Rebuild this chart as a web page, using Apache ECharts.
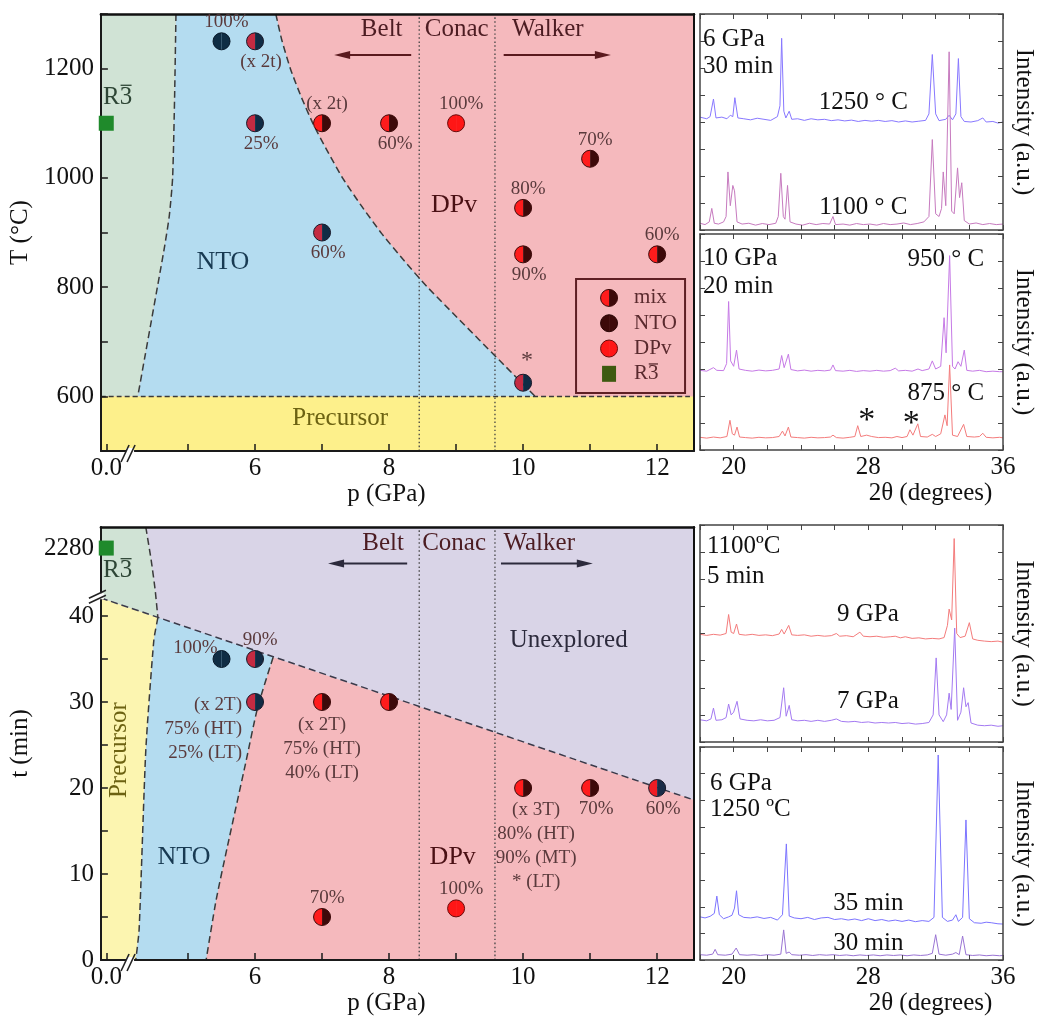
<!DOCTYPE html>
<html>
<head>
<meta charset="utf-8">
<script src="https://cdn.jsdelivr.net/npm/echarts@6.0.0/dist/echarts.min.js"></script>
<style>html,body{margin:0;padding:0;background:#fff;}#chart{width:1037px;height:1023px;}</style>
</head>
<body>
<div id="chart"></div>
<script>
// ======================= DATA =======================
// phase-diagram axes
const pTickValues  = [0, 5, 6, 7, 8, 9, 10, 11, 12];          // GPa (0.0 sits after an axis break)
const pLabelValues = [0, 6, 8, 10, 12];
const TLabelValues = [600, 800, 1000, 1200];                   // °C
const tTickValues  = [0, 5, 10, 15, 20, 25, 30, 35, 40, 2280]; // min (2280 after an axis break)
const tLabelValues = [0, 10, 20, 30, 40, 2280];
const xrdLabelValues = [20, 28, 36];                           // 2θ (degrees)

// press limits (GPa) separating Belt | Conac | Walker
const pressLimits = [8.45, 9.58];
const precursorT = 600;

// ---- top diagram : T (°C) vs p (GPa) ----
const topR3Boundary  = [[4.82,1300],[4.80,1150],[4.77,1000],[4.72,930],[4.64,867],[4.25,600]];
const topDPvBoundary = [[6.31,1300],[6.40,1252],[6.53,1199],[6.69,1148],[6.87,1098],[7.08,1049],[7.31,999],[7.58,950],[7.89,898],[8.22,849],[8.58,799],[10.18,600]];
const topPoints = [ // [p, T, phase, label]
  [5.5,1250,'NTO','100%'],
  [6,1250,'mixB','(x 2t)'],
  [6,1100,'mixB','25%'],
  [7,900,'mixB','60%'],
  [7,1100,'mix','(x 2t)'],
  [8,1100,'mix','60%'],
  [9,1100,'DPv','100%'],
  [11,1035,'mix','70%'],
  [10,945,'mix','80%'],
  [10,860,'mix','90%'],
  [12,860,'mix','60%'],
  [10,625,'mixB','*'],
  [0,1100,'R3','']
];
const topLabelKinds = ['above','below','below','below','above','below','above','above','above','below','above','star',''];
const topNotes = [ // [p, T, text, kind]
  [7.89,1271,'Belt','site'],[9.01,1271,'Conac','site'],[10.37,1271,'Walker','site'],
  [5.52,845,'NTO','nto'],[8.97,950,'DPv','dpv'],[7.27,559,'Precursor','prec'],[3.95,1148,'R3\u0305','r3']
];
const topArrows = [[8.33,7.18,1225],[9.71,11.31,1225]]; // [from p, to p, T]

// ---- bottom diagram : t (min) vs p (GPa) ----
const botR3Curve        = [[4.37,50.35],[4.45,46.5],[4.51,43.0],[4.55,39.8]];
const botUnexploredLine = [[3.70,42.1],[12.55,18.6]];
const botPrecBoundary   = [[4.55,39.8],[4.49,37.2],[4.37,24.4],[4.27,3.5],[4.22,0]];
const botDPvBoundary    = [[6.27,35.2],[6.04,29.4],[5.86,22.9],[5.61,14.0],[5.42,7.0],[5.27,0]];
const botPoints = [ // [p, t, phase, label]
  [5.5,35,'NTO','100%'],
  [6,35,'mixB','90%'],
  [6,30,'mixB','(x 2T)\n75% (HT)\n25% (LT)'],
  [7,30,'mix','(x 2T)\n75% (HT)\n40% (LT)'],
  [8,30,'mix',''],
  [7,5,'mix','70%'],
  [9,6,'DPv','100%'],
  [10,20,'mix','(x 3T)\n80% (HT)\n90% (MT)\n* (LT)'],
  [11,20,'mix','70%'],
  [12,20,'mixC','60%'],
  [0,2280,'R3','']
];
const botLabelKinds = ['aboveLeft','above','leftBlock','belowBlock','','above','above','belowBlockR','below','below',''];
const botNotes = [
  [7.91,48.4,'Belt','site'],[8.97,48.4,'Conac','site'],[10.24,48.4,'Walker','site'],
  [10.68,37.2,'Unexplored','unexp'],[4.94,11.9,'NTO','nto'],[8.95,11.9,'DPv','dpv'],
  [3.97,24.4,'Precursor','precV'],[3.95,45.3,'R3\u0305','r3']
];
const botArrows = [[8.27,7.09,46.1],[9.67,11.04,46.1]];

const legendItems = [['mix','mix'],['NTOleg','NTO'],['DPv','DPv'],['R3leg','R3\u0305']];

// ---- XRD patterns [2θ, intensity] ----
const xrd6GPa1250C = [[18.0,4.18],[18.4,4.12],[18.6,4.2],[18.8,4.85],[18.95,4.15],[19.3,4.18],[19.6,4.12],[19.8,4.25],[19.95,4.2],[20.07,4.9],[20.25,4.15],[20.6,4.12],[21.0,4.08],[21.4,4.14],[21.8,4.1],[22.2,4.06],[22.6,4.2],[22.75,4.6],[22.85,7.1],[22.98,4.4],[23.1,4.15],[23.3,4.4],[23.45,4.1],[23.8,4.12],[24.2,4.06],[24.6,4.12],[25.0,4.08],[25.4,4.1],[25.8,4.05],[26.2,4.08],[26.6,4.04],[27.0,4.07],[27.4,4.02],[27.8,4.06],[28.2,4.03],[28.6,4.06],[29.0,4.02],[29.4,4.05],[29.8,4.0],[30.2,4.04],[30.6,4.0],[31.0,4.03],[31.4,4.06],[31.6,4.3],[31.8,6.5],[32.0,4.3],[32.2,4.05],[32.6,4.1],[32.8,4.25],[33.0,4.08],[33.2,4.3],[33.35,6.35],[33.5,4.2],[33.7,4.02],[34.1,4.0],[34.5,4.05],[34.8,4.15],[35.0,4.0],[35.4,4.02],[35.7,3.96],[36.0,4.0]];
const xrd6GPa1100C = [[18.0,0.25],[18.3,0.2],[18.55,0.3],[18.7,0.8],[18.85,0.25],[19.1,0.22],[19.4,0.3],[19.55,0.5],[19.66,2.15],[19.8,0.9],[19.95,1.65],[20.05,1.45],[20.2,0.3],[20.5,0.22],[20.9,0.25],[21.3,0.18],[21.7,0.24],[22.1,0.2],[22.5,0.25],[22.65,0.5],[22.8,2.1],[22.95,0.5],[23.05,0.4],[23.2,1.65],[23.35,0.3],[23.7,0.22],[24.1,0.18],[24.5,0.25],[24.9,0.2],[25.3,0.24],[25.7,0.22],[25.9,0.5],[26.05,0.2],[26.5,0.22],[26.9,0.18],[27.3,0.24],[27.7,0.2],[28.1,0.22],[28.5,0.18],[28.9,0.24],[29.3,0.2],[29.7,0.22],[30.1,0.26],[30.5,0.2],[30.9,0.24],[31.3,0.3],[31.6,0.5],[31.8,3.35],[32.0,0.6],[32.2,0.5],[32.35,0.8],[32.45,2.15],[32.6,0.9],[32.8,6.6],[32.95,0.7],[33.1,0.6],[33.3,2.3],[33.42,1.2],[33.55,1.75],[33.7,0.35],[34.0,0.22],[34.4,0.26],[34.8,0.2],[35.2,0.24],[35.6,0.2],[36.0,0.22]];
const xrd10GPa950C = [[18.0,2.95],[18.4,2.92],[18.8,3.05],[19.0,2.95],[19.4,2.94],[19.58,3.2],[19.7,5.5],[19.82,3.3],[20.0,3.1],[20.17,3.7],[20.32,3.0],[20.7,2.95],[21.1,2.92],[21.5,2.96],[21.9,2.93],[22.3,2.95],[22.7,3.0],[22.85,3.5],[23.0,3.05],[23.25,3.55],[23.4,2.98],[23.8,2.93],[24.2,2.96],[24.6,2.92],[25.0,2.95],[25.4,2.93],[25.75,2.96],[25.9,3.15],[26.05,2.94],[26.5,2.92],[26.9,2.95],[27.3,2.91],[27.7,2.94],[28.1,2.92],[28.5,2.95],[28.9,2.92],[29.3,2.94],[29.6,3.03],[29.8,2.93],[30.2,2.95],[30.6,2.92],[30.95,3.0],[31.2,2.94],[31.6,3.0],[31.8,3.3],[32.0,3.0],[32.3,3.1],[32.5,4.9],[32.62,3.6],[32.83,7.2],[33.0,3.1],[33.15,3.0],[33.33,3.27],[33.5,3.1],[33.7,3.7],[33.85,2.95],[34.2,2.92],[34.6,2.95],[35.0,2.9],[35.4,2.92],[35.8,2.9],[36.0,2.9]];
const xrd10GPa875C = [[18.0,0.47],[18.4,0.44],[18.8,0.48],[19.2,0.45],[19.6,0.5],[19.78,1.1],[19.92,0.6],[20.05,0.55],[20.2,0.85],[20.35,0.48],[20.7,0.46],[21.1,0.44],[21.5,0.47],[21.9,0.45],[22.3,0.46],[22.7,0.5],[22.9,0.7],[23.05,0.52],[23.25,0.85],[23.4,0.48],[23.8,0.46],[24.2,0.44],[24.6,0.47],[25.0,0.45],[25.4,0.46],[25.75,0.48],[25.9,0.55],[26.1,0.46],[26.5,0.44],[26.9,0.47],[27.2,0.5],[27.37,0.9],[27.55,0.5],[27.9,0.55],[28.2,0.5],[28.6,0.46],[29.0,0.47],[29.4,0.45],[29.7,0.5],[30.0,0.46],[30.3,0.5],[30.47,0.75],[30.65,0.55],[30.94,0.97],[31.1,0.5],[31.5,0.48],[31.8,0.58],[32.0,0.5],[32.3,0.6],[32.55,1.3],[32.68,0.9],[32.83,3.15],[33.0,0.55],[33.3,0.5],[33.66,0.95],[33.85,0.5],[34.3,0.48],[34.6,0.5],[34.8,0.62],[35.0,0.47],[35.4,0.45],[35.8,0.47],[36.0,0.45]];
const xrd9GPa = [[18.0,3.97],[18.4,3.93],[18.8,3.97],[19.2,3.94],[19.55,4.0],[19.7,4.7],[19.85,4.05],[20.0,4.0],[20.17,4.35],[20.32,3.97],[20.7,3.94],[21.1,3.97],[21.5,3.93],[21.9,3.95],[22.3,3.92],[22.7,3.98],[22.85,4.15],[23.0,3.98],[23.27,4.3],[23.45,3.95],[23.8,3.93],[24.2,3.95],[24.6,3.9],[25.0,3.93],[25.4,3.9],[25.8,3.92],[26.1,4.0],[26.3,3.9],[26.7,3.92],[27.1,3.88],[27.5,4.05],[27.7,3.9],[28.1,3.88],[28.5,3.9],[28.9,3.86],[29.3,3.88],[29.6,3.9],[29.9,3.84],[30.2,3.88],[30.6,3.82],[31.0,3.84],[31.4,3.8],[31.8,3.82],[32.2,3.8],[32.5,3.85],[32.7,4.3],[32.8,4.9],[32.95,4.5],[33.1,7.5],[33.25,4.0],[33.45,3.85],[33.75,3.9],[34.0,4.4],[34.2,3.8],[34.5,3.75],[34.9,3.72],[35.3,3.7],[35.7,3.72],[36.0,3.68]];
const xrd7GPa = [[18.0,0.82],[18.4,0.78],[18.65,0.85],[18.8,1.25],[18.95,0.8],[19.3,0.82],[19.55,0.9],[19.7,1.4],[19.85,1.0],[20.0,1.1],[20.2,1.5],[20.38,0.85],[20.8,0.8],[21.2,0.78],[21.6,0.82],[22.0,0.78],[22.4,0.8],[22.75,0.9],[22.97,2.0],[23.12,0.95],[23.3,1.35],[23.45,0.82],[23.8,0.78],[24.2,0.8],[24.6,0.76],[25.0,0.8],[25.4,0.76],[25.8,0.8],[26.1,0.85],[26.4,0.76],[26.8,0.74],[27.2,0.76],[27.6,0.72],[28.0,0.74],[28.4,0.7],[28.8,0.72],[29.2,0.7],[29.6,0.72],[30.0,0.68],[30.4,0.7],[30.8,0.66],[31.2,0.68],[31.6,0.72],[31.85,1.0],[32.03,3.1],[32.2,1.0],[32.45,0.75],[32.65,1.0],[32.8,1.8],[32.92,1.2],[33.13,4.2],[33.3,0.8],[33.5,1.1],[33.66,2.0],[33.8,1.3],[33.93,1.45],[34.1,0.7],[34.5,0.62],[34.9,0.6],[35.3,0.62],[35.7,0.58],[36.0,0.6]];
const xrd35min = [[18.0,1.62],[18.3,1.58],[18.6,1.64],[18.85,1.75],[19.0,2.4],[19.15,1.7],[19.4,1.55],[19.7,1.62],[19.9,1.68],[20.05,1.95],[20.17,2.6],[20.3,1.7],[20.6,1.6],[21.0,1.58],[21.4,1.62],[21.8,1.56],[22.2,1.6],[22.6,1.5],[22.9,1.7],[23.13,4.36],[23.3,1.65],[23.6,1.58],[24.0,1.55],[24.4,1.6],[24.8,1.52],[25.2,1.58],[25.6,1.6],[26.0,1.52],[26.4,1.55],[26.8,1.5],[27.2,1.54],[27.6,1.48],[28.0,1.55],[28.4,1.48],[28.8,1.52],[29.2,1.46],[29.6,1.5],[30.0,1.45],[30.4,1.5],[30.8,1.44],[31.2,1.48],[31.6,1.45],[31.9,1.6],[32.15,7.7],[32.4,1.6],[32.7,1.45],[33.0,1.5],[33.2,1.7],[33.35,1.45],[33.6,1.6],[33.8,5.26],[34.0,1.55],[34.3,1.4],[34.7,1.38],[35.0,1.42],[35.3,1.4],[35.7,1.36],[36.0,1.35]];
const xrd30min = [[18.0,0.2],[18.4,0.18],[18.75,0.22],[18.9,0.4],[19.05,0.2],[19.5,0.18],[19.9,0.22],[20.15,0.45],[20.35,0.2],[20.8,0.18],[21.2,0.2],[21.6,0.17],[22.0,0.2],[22.4,0.18],[22.8,0.22],[22.97,1.13],[23.12,0.25],[23.3,0.3],[23.45,0.2],[23.9,0.18],[24.3,0.2],[24.7,0.17],[25.1,0.2],[25.5,0.18],[25.9,0.2],[26.3,0.17],[26.7,0.19],[27.1,0.16],[27.5,0.19],[27.9,0.17],[28.3,0.19],[28.7,0.16],[29.1,0.19],[29.5,0.17],[29.9,0.19],[30.3,0.16],[30.7,0.19],[31.1,0.17],[31.5,0.19],[31.8,0.25],[32.0,0.95],[32.2,0.22],[32.6,0.18],[33.0,0.22],[33.2,0.28],[33.4,0.2],[33.6,0.9],[33.8,0.2],[34.2,0.17],[34.6,0.19],[35.0,0.16],[35.4,0.18],[35.8,0.16],[36.0,0.17]];

const xrdNotes1 = [[18.18,7.04,'6 GPa','xrdL'],[18.18,6.04,'30 min','xrdL'],[27.7,4.74,'1250 \u00b0 C','xrd'],[27.7,0.85,'1100 \u00b0 C','xrd']];
const xrdNotes2 = [[18.18,7.1,'10 GPa','xrdL'],[18.18,6.04,'20 min','xrdL'],[32.6,7.07,'950 \u00b0 C','xrd'],[32.6,2.1,'875 \u00b0 C','xrd'],[27.9,1.3,'*','star'],[30.55,1.19,'*','star']];
const xrdNotes3 = [[18.41,7.2,'1100\u00baC','xrdL'],[18.41,6.09,'5 min','xrdL'],[27.97,4.72,'9 GPa','xrd'],[27.97,1.51,'7 GPa','xrd']];
const xrdNotes4 = [[18.6,6.65,'6 GPa','xrdL'],[18.6,5.64,'1250 \u00baC','xrdL'],[28.0,2.14,'35 min','xrd'],[28.0,0.64,'30 min','xrd']];

// ======================= LAYOUT / STYLE =======================
const FONT = '"Liberation Serif","Times New Roman",serif';
const P_MIN = 3.70, P_MAX = 12.55, P_ZERO_POS = 3.78, P_BREAK_MARK = 4.15;
const T_MIN = 500, T_MAX = 1300;
const t_MIN = 0, t_MAX = 50.35, t_BIG_POS = 47.9, t_BREAK_MARK = 42.3;
const pAxis = p => (p === 0 ? P_ZERO_POS : p);
const tAxis = t => (t > 100 ? t_BIG_POS : t);
const near = (a, b) => Math.abs(a - b) < 1e-6;

const C = {pink:'#f5b9bd', blue:'#b4dcf0', green:'#d0e3d5', yellow:'#fdf08b', yellow2:'#fcf5b0', lav:'#d9d4e7'};

function font(size){ return size + 'px ' + FONT; }
function txt(x, y, text, o) {
  o = o || {};
  return {type:'text', x:x, y:y, rotation:o.rot || 0,
    style:{text:text, x:0, y:0, align:o.align || 'center', verticalAlign:o.va || 'middle',
      fill:o.color || '#111', font:font(o.size || 24), lineHeight:o.lh || Math.round((o.size||24)*1.2)}};
}
// "R3" with an overline bar on the 3 (R-bar-3 space group symbol)
function r3Shapes(x, y, size, color, align) {
  const w = 1.167 * size;
  const left = align === 'left' ? x : x - w / 2;
  return [txt(left, y, 'R3', {align:'left', size:size, color:color}),
    {type:'line', shape:{x1:left + 0.70*size, y1:y - 0.47*size, x2:left + 1.14*size, y2:y - 0.47*size},
      style:{stroke:color, lineWidth:1.3}}];
}
function polySeries(gi, pts, fill) {
  return {type:'custom', xAxisIndex:2*gi, yAxisIndex:2*gi, silent:true, z:1, clip:false,
    data:[[pts[0][0], pts[0][1]]],
    renderItem:(params, api) => ({type:'polygon', shape:{points:pts.map(q => api.coord(q))}, style:{fill:fill}})};
}
function pathSeries(gi, pts, dash, color, width) {
  return {type:'custom', xAxisIndex:2*gi, yAxisIndex:2*gi, silent:true, z:2, clip:false,
    data:[[pts[0][0], pts[0][1]]],
    renderItem:(params, api) => ({type:'polyline', shape:{points:pts.map(q => api.coord(q)), smooth:0.2},
      style:{stroke:color, lineWidth:width, lineDash:dash, fill:null}})};
}
const PHASE = {
  NTO:   ['#0f2d44','#0f2d44','#08192a'],
  DPv:   ['#ff1616','#ff1616','#6a0a0a'],
  mix:   ['#ff1c1c','#3d0909','#3d0909'],
  mixB:  ['#c42b42','#102c45','#1a1a2a'],
  mixC:  ['#f01c24','#1a2c48','#1a1a2a'],
  NTOleg:['#3d0909','#3d0909','#2a0505']
};
function markerShapes(kind, x, y, r) {
  if (kind === 'R3')    return [{type:'rect', shape:{x:x-7.5, y:y-7.5, width:15, height:15}, style:{fill:'#1f8a2b'}}];
  if (kind === 'R3leg') return [{type:'rect', shape:{x:x-7, y:y-8, width:14, height:16}, style:{fill:'#3e5a10'}}];
  const c = PHASE[kind];
  return [
    {type:'sector', shape:{cx:x, cy:y, r0:0, r:r, startAngle:Math.PI/2, endAngle:Math.PI*1.5, clockwise:true}, style:{fill:c[0]}},
    {type:'sector', shape:{cx:x, cy:y, r0:0, r:r, startAngle:-Math.PI/2, endAngle:Math.PI/2, clockwise:true}, style:{fill:c[1]}},
    {type:'circle', shape:{cx:x, cy:y, r:r}, style:{fill:null, stroke:c[2], lineWidth:1}}
  ];
}
const LABEL = {
  above:{dx:5, dy:-19, align:'center', va:'middle'},
  below:{dx:6, dy:21, align:'center', va:'middle'},
  star:{dx:4, dy:-22, align:'center', va:'middle', size:24},
  aboveLeft:{dx:-26, dy:-11, align:'center', va:'middle'},
  leftBlock:{dx:-13, dy:-9, align:'right', va:'top'},
  belowBlock:{dx:0, dy:11, align:'center', va:'top'},
  belowBlockR:{dx:13, dy:10, align:'center', va:'top'}
};
function markerSeries(gi, pts, kinds, yMap) {
  return {type:'custom', xAxisIndex:2*gi, yAxisIndex:2*gi, silent:true, z:6, clip:false,
    data: pts.map(q => [pAxis(q[0]), yMap(q[1])]),
    renderItem:(params, api) => {
      const q = pts[params.dataIndex];
      const c = api.coord([api.value(0), api.value(1)]);
      const ch = markerShapes(q[2], c[0], c[1], 8.5);
      const lk = LABEL[kinds[params.dataIndex]];
      if (q[3] && lk) ch.push(txt(c[0]+lk.dx, c[1]+lk.dy, q[3], {align:lk.align, va:lk.va, size:lk.size || 19, color:'#5a3a3c', lh:24}));
      return {type:'group', children:ch};
    }};
}
const NOTE = {
  site:{color:'#4c1c22', size:25}, nto:{color:'#183a52', size:26}, dpv:{color:'#4a1014', size:26},
  prec:{color:'#6c6212', size:25}, precV:{color:'#6c6212', size:25, rot:Math.PI/2},
  r3:{color:'#2e4636', size:25}, unexp:{color:'#2c2a3c', size:25},
  xrd:{color:'#111', size:25}, xrdL:{color:'#111', size:25, align:'left'}, star:{color:'#111', size:34}
};
function noteSeries(gi, notes) {
  return {type:'custom', xAxisIndex:2*gi, yAxisIndex:2*gi, silent:true, z:8, clip:false,
    data: notes.map(n => [n[0], n[1]]),
    renderItem:(params, api) => {
      const n = notes[params.dataIndex];
      const c = api.coord([n[0], n[1]]);
      const s = NOTE[n[3]];
      if (n[3] === 'r3') return {type:'group', children:r3Shapes(c[0], c[1], s.size, s.color, 'center')};
      return txt(c[0], c[1] + (n[3]==='star' ? 6 : 0), n[2], {color:s.color, size:s.size, rot:s.rot, align:s.align});
    }};
}
function arrowSeries(gi, arrows, color) {
  return {type:'custom', xAxisIndex:2*gi, yAxisIndex:2*gi, silent:true, z:8, clip:false,
    data: arrows.map(a => [a[0], a[2]]),
    renderItem:(params, api) => {
      const a = arrows[params.dataIndex];
      const s = api.coord([a[0], a[2]]), e = api.coord([a[1], a[2]]);
      const d = Math.sign(e[0] - s[0]);
      return {type:'group', children:[
        {type:'line', shape:{x1:s[0], y1:s[1], x2:e[0]-d*10, y2:e[1]}, style:{stroke:color, lineWidth:2}},
        {type:'polygon', shape:{points:[[e[0],e[1]],[e[0]-d*16,e[1]-4],[e[0]-d*16,e[1]+4]]}, style:{fill:color}}
      ]};
    }};
}
function breakSeries(gi, pAt, yBottom, tAt) {
  return {type:'custom', xAxisIndex:2*gi, yAxisIndex:2*gi, silent:true, z:30, clip:false,
    data:[[pAt, yBottom]],
    renderItem:(params, api) => {
      const b = api.coord([pAt, yBottom]);
      const ch = [
        {type:'rect', shape:{x:b[0]-5, y:b[1]-3, width:8, height:6}, style:{fill:'#fff'}},
        {type:'line', shape:{x1:b[0]-10, y1:b[1]+11, x2:b[0]-2, y2:b[1]-6}, style:{stroke:'#222', lineWidth:1.6}},
        {type:'line', shape:{x1:b[0]-4, y1:b[1]+11, x2:b[0]+4, y2:b[1]-6}, style:{stroke:'#222', lineWidth:1.6}}
      ];
      if (tAt != null) {
        const l = api.coord([P_MIN, tAt]);
        ch.push({type:'rect', shape:{x:l[0]-3, y:l[1]-3, width:6, height:6}, style:{fill:'#fff'}});
        ch.push({type:'line', shape:{x1:l[0]-12, y1:l[1]+2, x2:l[0]+5, y2:l[1]-6}, style:{stroke:'#222', lineWidth:1.6}});
        ch.push({type:'line', shape:{x1:l[0]-12, y1:l[1]+7, x2:l[0]+5, y2:l[1]-1}, style:{stroke:'#222', lineWidth:1.6}});
      }
      return {type:'group', children:ch};
    }};
}
const legendAnchor = [10.79, 815];
const legendSeries = {type:'custom', xAxisIndex:0, yAxisIndex:0, silent:true, z:9, clip:false,
  data:[legendAnchor],
  renderItem:(params, api) => {
    const o = api.coord(legendAnchor);
    const ch = [{type:'rect', shape:{x:o[0], y:o[1], width:109, height:114}, style:{fill:'none', stroke:'#5e1f24', lineWidth:2}}];
    legendItems.forEach((it, i) => {
      const cy = o[1] + 19 + i*25.3;
      markerShapes(it[0], o[0]+33, cy, 8.5).forEach(s => ch.push(s));
      if (it[0] === 'R3leg') r3Shapes(o[0]+58, cy, 21, '#5a2a2e', 'left').forEach(s => ch.push(s));
      else ch.push(txt(o[0]+58, cy, it[1], {align:'left', size:21, color:'#5a2a2e'}));
    });
    return {type:'group', children:ch};
  }};

// ---------- axes ----------
const AX = {color:'#1a1a1a'};
const labelStyle = {fontFamily:FONT, fontSize:25, color:'#111'};
function phaseX(gi) {
  return [{gridIndex:gi, type:'value', min:P_MIN, max:P_MAX, position:'bottom', z:5,
      axisLine:{show:true, onZero:false, lineStyle:{color:AX.color, width:2}},
      axisTick:{show:true, inside:true, length:7, lineStyle:{color:AX.color, width:1.5}, customValues:pTickValues.map(pAxis)},
      axisLabel:Object.assign({show:true, margin:5, customValues:pLabelValues.map(pAxis),
        formatter:v => near(v, P_ZERO_POS) ? '0.0' : String(Math.round(v))}, labelStyle),
      splitLine:{show:false},
      name:'p (GPa)', nameLocation:'middle', nameGap:31, nameTextStyle:Object.assign({padding:[0,22,0,0]}, labelStyle)},
    {gridIndex:gi, type:'value', min:P_MIN, max:P_MAX, position:'top', z:5,
      axisLine:{show:true, onZero:false, lineStyle:{color:'#111', width:2.5}}, axisTick:{show:false}, axisLabel:{show:false}, splitLine:{show:false}}];
}
function phaseY(gi, yCfg) {
  return [Object.assign({gridIndex:gi, type:'value', position:'left', z:5,
      axisLine:{show:true, onZero:false, lineStyle:{color:AX.color, width:2}},
      splitLine:{show:false},
      nameLocation:'middle', nameRotate:90, nameTextStyle:labelStyle}, yCfg),
    {gridIndex:gi, type:'value', min:yCfg.min, max:yCfg.max, position:'right', z:5,
      axisLine:{show:true, onZero:false, lineStyle:{color:'#111', width:2}}, axisTick:{show:false}, axisLabel:{show:false}, splitLine:{show:false}}];
}
function xrdX(gi, labels) {
  const base = {gridIndex:gi, type:'value', min:18, max:36, interval:2, z:5, splitLine:{show:false},
    axisLine:{show:true, onZero:false, lineStyle:{color:'#444', width:1.5}},
    axisTick:{show:true, inside:true, length:5, lineStyle:{color:'#444'}}};
  return [Object.assign({}, base, {position:'bottom',
      axisLabel:Object.assign({show:labels, margin:5, formatter:v => xrdLabelValues.includes(v) ? String(v) : ''}, labelStyle),
      name:labels ? '2\u03b8 (degrees)' : '', nameLocation:'middle', nameGap:30,
      nameTextStyle:Object.assign({padding:[0,0,0,158]}, labelStyle)}),
    Object.assign({}, base, {position:'top', axisLabel:{show:false}})];
}
function xrdY(gi) {
  const base = {gridIndex:gi, type:'value', min:0, max:8, interval:1, z:5, splitLine:{show:false},
    axisLine:{show:true, onZero:false, lineStyle:{color:'#444', width:1.5}},
    axisTick:{show:true, inside:true, length:5, lineStyle:{color:'#444'}}, axisLabel:{show:false}};
  return [Object.assign({}, base, {position:'left'}),
    Object.assign({}, base, {position:'right', name:'Intensity (a.u.)', nameLocation:'middle', nameRotate:-90, nameGap:8, nameTextStyle:labelStyle})];
}

const yTop = {min:T_MIN, max:T_MAX, interval:100,
  axisTick:{show:true, inside:true, length:7, lineStyle:{color:AX.color, width:1.5}},
  axisLabel:Object.assign({margin:7, formatter:v => TLabelValues.includes(v) ? String(v) : ''}, labelStyle),
  name:'T (\u00b0C)', nameGap:66};
const yBot = {min:t_MIN, max:t_MAX,
  axisTick:{show:true, inside:true, length:7, lineStyle:{color:AX.color, width:1.5}, customValues:tTickValues.map(tAxis)},
  axisLabel:Object.assign({margin:7, customValues:tLabelValues.map(tAxis), formatter:v => near(v, t_BIG_POS) ? '2280' : String(Math.round(v))}, labelStyle),
  name:'t (min)', nameGap:66};

const xAxes = [].concat(phaseX(0), xrdX(1,false), xrdX(2,true), phaseX(3), xrdX(4,false), xrdX(5,true));
const yAxes = [].concat(phaseY(0,yTop), xrdY(1), xrdY(2), phaseY(3,yBot), xrdY(4), xrdY(5));

function xrdLine(gi, data, color) {
  return {type:'line', xAxisIndex:2*gi, yAxisIndex:2*gi, data:data, showSymbol:false, silent:true, z:3,
    lineStyle:{color:color, width:1}, animation:false};
}

// ---------- series ----------
const series = [];
// top diagram regions
series.push(polySeries(0, [[P_MIN,T_MIN],[P_MAX,T_MIN],[P_MAX,T_MAX],[P_MIN,T_MAX]], C.pink));
series.push(polySeries(0, [[P_MIN,precursorT],[P_MIN,T_MAX]].concat(topR3Boundary), C.green));
series.push(polySeries(0, topR3Boundary.concat([[10.18,precursorT]], topDPvBoundary.slice().reverse()), C.blue));
series.push(polySeries(0, [[P_MIN,T_MIN],[P_MAX,T_MIN],[P_MAX,precursorT],[P_MIN,precursorT]], C.yellow));
series.push(pathSeries(0, topR3Boundary, [7,4], '#3a3a3a', 1.5));
series.push(pathSeries(0, topDPvBoundary, [7,4], '#3a3a3a', 1.5));
series.push(pathSeries(0, [[P_MIN,precursorT],[P_MAX,precursorT]], [5,3], '#3a3a3a', 1.5));
pressLimits.forEach(p => series.push(pathSeries(0, [[p,T_MIN],[p,T_MAX]], [1.5,2.5], '#444', 1.3)));
// bottom diagram regions
const botLeftT = botUnexploredLine[0][1], botRightT = botUnexploredLine[1][1];
series.push(polySeries(3, [[P_MIN,t_MIN],[P_MAX,t_MIN],[P_MAX,t_MAX],[P_MIN,t_MAX]], C.lav));
series.push(polySeries(3, [[P_MIN,t_MAX]].concat(botR3Curve, [[P_MIN,botLeftT]]), C.green));
series.push(polySeries(3, [[P_MIN,botLeftT]].concat(botPrecBoundary, [[P_MIN,t_MIN]]), C.yellow2));
series.push(polySeries(3, botPrecBoundary.concat(botDPvBoundary.slice().reverse()), C.blue));
series.push(polySeries(3, botDPvBoundary.concat([[P_MAX,t_MIN],[P_MAX,botRightT]]), C.pink));
series.push(pathSeries(3, botR3Curve, [7,4], '#3a3a3a', 1.5));
series.push(pathSeries(3, botUnexploredLine, [7,4], '#3a3a4a', 1.5));
series.push(pathSeries(3, botPrecBoundary, [7,4], '#3a3a3a', 1.5));
series.push(pathSeries(3, botDPvBoundary, [7,4], '#3a3a3a', 1.5));
pressLimits.forEach(p => series.push(pathSeries(3, [[p,t_MIN],[p,t_MAX]], [1.5,2.5], '#444', 1.3)));
// XRD
series.push(xrdLine(1, xrd6GPa1250C, '#8878ff'));
series.push(xrdLine(1, xrd6GPa1100C, '#c77bbf'));
series.push(xrdLine(2, xrd10GPa950C, '#c67ae6'));
series.push(xrdLine(2, xrd10GPa875C, '#f47c7c'));
series.push(xrdLine(4, xrd9GPa, '#f47c7c'));
series.push(xrdLine(4, xrd7GPa, '#a47af2'));
series.push(xrdLine(5, xrd35min, '#7c74ff'));
series.push(xrdLine(5, xrd30min, '#9a74d4'));
// markers, notes
series.push(markerSeries(0, topPoints, topLabelKinds, T => T));
series.push(markerSeries(3, botPoints, botLabelKinds, tAxis));
series.push(noteSeries(0, topNotes));
series.push(noteSeries(3, botNotes));
series.push(arrowSeries(0, topArrows, '#5a1a1e'));
series.push(arrowSeries(3, botArrows, '#2c2a3c'));
series.push(noteSeries(1, xrdNotes1));
series.push(noteSeries(2, xrdNotes2));
series.push(noteSeries(4, xrdNotes3));
series.push(noteSeries(5, xrdNotes4));
series.push(legendSeries);
series.push(breakSeries(0, P_BREAK_MARK, T_MIN, null));
series.push(breakSeries(3, P_BREAK_MARK, t_MIN, t_BREAK_MARK));

const chart = echarts.init(document.getElementById('chart'), null, {renderer:'canvas'});
chart.setOption({
  animation:false,
  backgroundColor:'#fff',
  grid:[
    {left:100, top:14, width:594, height:437},
    {left:700, top:14, width:304, height:216},
    {left:700, top:234, width:304, height:216},
    {left:100, top:527, width:594, height:433},
    {left:700, top:525, width:304, height:217},
    {left:700, top:747, width:304, height:213}
  ],
  xAxis:xAxes,
  yAxis:yAxes,
  series:series
});
</script>
</body>
</html>
